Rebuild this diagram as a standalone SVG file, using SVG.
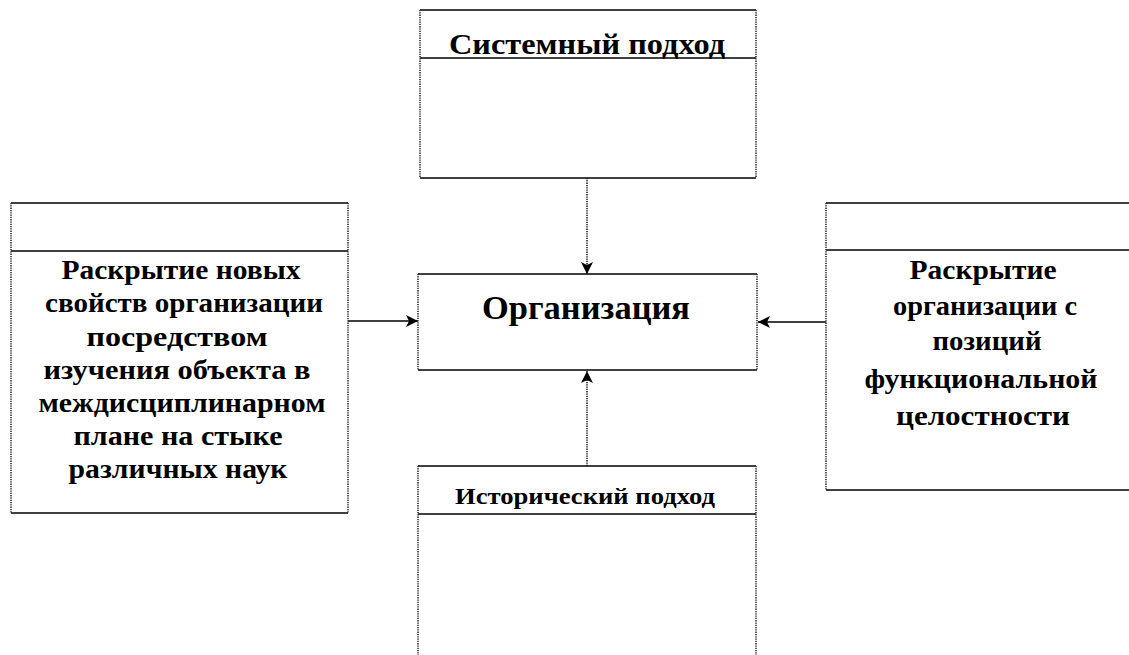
<svg xmlns="http://www.w3.org/2000/svg" width="1129" height="655" viewBox="0 0 1129 655">
<defs>
<style>
.h{stroke:#000;stroke-width:1.6;fill:none}
.v{stroke:#333;stroke-width:1.6;stroke-dasharray:1.3 1;fill:none}
.t{font-family:"Liberation Serif","Times New Roman",serif;font-weight:bold;fill:#000;text-anchor:middle}
.c{stroke:#000;stroke-width:1.3;fill:none}
.cd{stroke:#222;stroke-width:1.6;stroke-dasharray:1.3 1;fill:none}
</style>
<marker id="ah" viewBox="0 0 12 12" refX="12" refY="6" markerWidth="12" markerHeight="12" markerUnits="userSpaceOnUse" orient="auto">
<path d="M0,0 L12,6 L0,12 L3,6 Z" fill="#000"/>
</marker>
</defs>
<rect width="1129" height="655" fill="#fff"/>
<g id="connectors">
<line class="cd" x1="587" y1="178" x2="587" y2="274" marker-end="url(#ah)"/>
<line class="cd" x1="587" y1="466" x2="587" y2="371" marker-end="url(#ah)"/>
<line class="c" x1="348" y1="321" x2="418" y2="321" marker-end="url(#ah)"/>
<line class="c" x1="826" y1="322" x2="758" y2="322" marker-end="url(#ah)"/>
</g>
<g id="node-system">
<line class="h" x1="420" y1="10" x2="756" y2="10"/>
<line class="h" x1="420" y1="58" x2="756" y2="58"/>
<line class="h" x1="420" y1="178" x2="756" y2="178"/>
<line class="v" x1="420" y1="10" x2="420" y2="178"/>
<line class="v" x1="756" y1="10" x2="756" y2="178"/>
<text class="t" x="587" y="54" font-size="29" textLength="276" lengthAdjust="spacingAndGlyphs">Системный подход</text>
</g>
<g id="node-left">
<line class="h" x1="11" y1="203" x2="348" y2="203"/>
<line class="h" x1="11" y1="251" x2="348" y2="251"/>
<line class="h" x1="11" y1="513" x2="348" y2="513"/>
<line class="v" x1="11" y1="203" x2="11" y2="513"/>
<line class="v" x1="348" y1="203" x2="348" y2="513"/>
<text class="t" font-size="28" x="181" y="279" textLength="239" lengthAdjust="spacingAndGlyphs">Раскрытие новых</text>
<text class="t" font-size="28" x="184" y="312" textLength="278" lengthAdjust="spacingAndGlyphs">свойств организации</text>
<text class="t" font-size="28" x="177" y="346" textLength="181" lengthAdjust="spacingAndGlyphs">посредством</text>
<text class="t" font-size="28" x="177" y="379" textLength="267" lengthAdjust="spacingAndGlyphs">изучения объекта в</text>
<text class="t" font-size="28" x="182" y="412" textLength="287" lengthAdjust="spacingAndGlyphs">междисциплинарном</text>
<text class="t" font-size="28" x="178" y="445" textLength="209" lengthAdjust="spacingAndGlyphs">плане на стыке</text>
<text class="t" font-size="28" x="178" y="478" textLength="219" lengthAdjust="spacingAndGlyphs">различных наук</text>
</g>
<g id="node-org">
<line class="h" x1="418" y1="274" x2="757" y2="274"/>
<line class="h" x1="418" y1="370" x2="757" y2="370"/>
<line class="v" x1="418" y1="274" x2="418" y2="370"/>
<line class="v" x1="757" y1="274" x2="757" y2="370"/>
<text class="t" x="586" y="319" font-size="33" textLength="208" lengthAdjust="spacingAndGlyphs">Организация</text>
</g>
<g id="node-right">
<line class="h" x1="826" y1="203" x2="1129" y2="203"/>
<line class="h" x1="826" y1="250" x2="1129" y2="250"/>
<line class="h" x1="826" y1="490" x2="1129" y2="490"/>
<line class="v" x1="826" y1="203" x2="826" y2="490"/>
<text class="t" font-size="28" x="983" y="279" textLength="147" lengthAdjust="spacingAndGlyphs">Раскрытие</text>
<text class="t" font-size="28" x="985" y="315" textLength="184" lengthAdjust="spacingAndGlyphs">организации с</text>
<text class="t" font-size="28" x="987" y="350" textLength="109" lengthAdjust="spacingAndGlyphs">позиций</text>
<text class="t" font-size="28" x="981" y="388" textLength="233" lengthAdjust="spacingAndGlyphs">функциональной</text>
<text class="t" font-size="28" x="983" y="425" textLength="174" lengthAdjust="spacingAndGlyphs">целостности</text>
</g>
<g id="node-history">
<line class="h" x1="418" y1="466" x2="756" y2="466"/>
<line class="h" x1="418" y1="514" x2="756" y2="514"/>
<line class="v" x1="418" y1="466" x2="418" y2="655"/>
<line class="v" x1="756" y1="466" x2="756" y2="655"/>
<text class="t" x="585" y="504" font-size="24" textLength="260" lengthAdjust="spacingAndGlyphs">Исторический  подход</text>
</g>
</svg>
